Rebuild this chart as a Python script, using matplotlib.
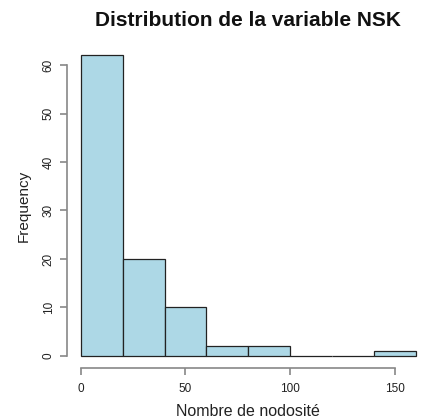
import numpy as np
import matplotlib.pyplot as plt

plt.rcParams['font.family'] = ['Liberation Sans', 'DejaVu Sans']

bin_edges = [0, 20, 40, 60, 80, 100, 120, 140, 160]
counts = [62, 20, 10, 2, 2, 0, 0, 1]
x_ticks = [0, 50, 100, 150]
y_ticks = [0, 10, 20, 30, 40, 50, 60]

fig = plt.figure(figsize=(4.22, 4.19), dpi=100)
ax = fig.add_axes([0.1595, 0.1217, 0.858, 0.775])

ax.bar(bin_edges[:-1], counts, width=np.diff(bin_edges), align='edge',
       color='#ADD8E6', edgecolor='#222222', linewidth=0.9)

ax.set_xlim(-6.4, 166.4)
ax.set_ylim(-2.48, 64.48)

for s in ['top', 'right']:
    ax.spines[s].set_visible(False)
for s in ['left', 'bottom']:
    ax.spines[s].set_color('#888888')
    ax.spines[s].set_linewidth(1.2)
ax.spines['left'].set_bounds(0, 60)
ax.spines['bottom'].set_bounds(0, 150)

ax.set_xticks(x_ticks)
ax.set_yticks(y_ticks)
ax.tick_params(axis='both', length=5, width=1.2, color='#888888',
               labelsize=8.5, labelcolor='#222222')
ax.tick_params(axis='x', pad=6)
ax.tick_params(axis='y', pad=4)
for lab in ax.get_yticklabels():
    lab.set_rotation(90)
    lab.set_va('center')

ax.set_xlabel('Nombre de nodosité', fontsize=11.5, labelpad=6, color='#222222')
ax.set_ylabel('Frequency', fontsize=11, labelpad=9, color='#222222')
fig.text(0.588, 0.952, 'Distribution de la variable NSK', ha='center', va='center',
         fontsize=15, fontweight='bold', color='#111111')

fig.savefig('out.png', dpi=100)
